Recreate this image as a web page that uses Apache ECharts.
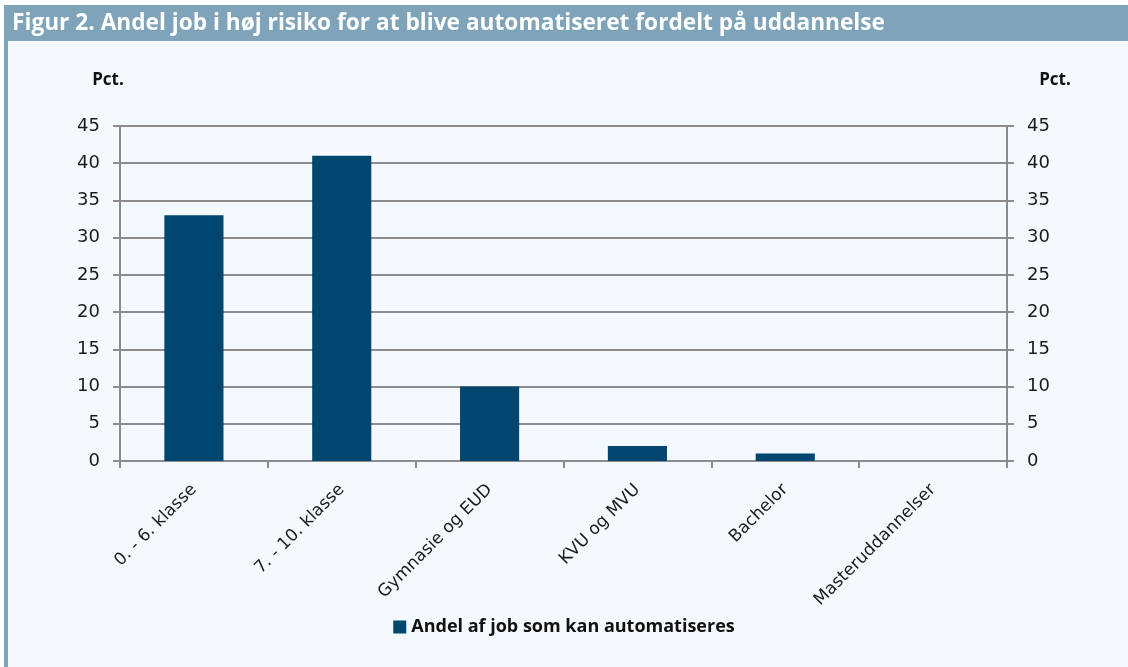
<!DOCTYPE html>
<html>
<head>
<meta charset="utf-8">
<script src="https://cdn.jsdelivr.net/npm/echarts@6/dist/echarts.min.js"></script>
<style>
html,body{margin:0;padding:0;background:#ffffff;}
#chart{width:1128px;height:667px;}
</style>
</head>
<body>
<div id="chart"></div>
<script>
const titleText = 'Figur 2. Andel job i høj risiko for at blive automatiseret fordelt på uddannelse';
const categories = ['0. - 6. klasse', '7. - 10. klasse', 'Gymnasie og EUD', 'KVU og MVU', 'Bachelor', 'Masteruddannelser'];
const seriesName = 'Andel af job som kan automatiseres';
const values = [33, 41, 10, 2, 1, 0];
const unitLabel = 'Pct.';

const chart = echarts.init(document.getElementById('chart'));
const axisCommon = {
  type: 'value', min: 0, max: 45, interval: 5,
  axisLine: {show: true, lineStyle: {color: '#8c8c8c', width: 2}},
  axisTick: {show: true, length: 7, lineStyle: {color: '#8c8c8c', width: 2}},
  axisLabel: {color: '#1a1a1a', fontSize: 18, fontFamily: 'DejaVu Sans', margin: 20}
};
chart.setOption({
  backgroundColor: '#ffffff',
  animation: false,
  graphic: [
    {type: 'rect', z: -10, shape: {x: 4, y: 41, width: 1124, height: 626}, style: {fill: '#f4f9fd'}},
    {type: 'rect', z: -5, shape: {x: 4, y: 5, width: 1124, height: 36}, style: {fill: '#7fa3b8'}},
    {type: 'rect', z: -5, shape: {x: 4, y: 41, width: 4, height: 626}, style: {fill: '#7fa3b8'}},
    {type: 'text', x: 12, y: 24, style: {text: titleText, fill: '#ffffff', font: 'bold 22.7px "Open Sans"', verticalAlign: 'middle'}},
    {type: 'text', x: 108, y: 80, style: {text: unitLabel, fill: '#111', font: 'bold 17px "Open Sans"', align: 'center', verticalAlign: 'middle'}},
    {type: 'text', x: 1055, y: 80, style: {text: unitLabel, fill: '#111', font: 'bold 17px "Open Sans"', align: 'center', verticalAlign: 'middle'}}
  ],
  grid: {left: 120, right: 121, top: 126, bottom: 206, containLabel: false},
  legend: {
    bottom: 26, left: 'center',
    icon: 'rect', itemWidth: 13, itemHeight: 13, itemGap: 4,
    textStyle: {fontSize: 18, fontWeight: 'bold', fontFamily: '"Open Sans"', color: '#111'},
    data: [seriesName]
  },
  xAxis: {
    type: 'category', data: categories,
    axisLine: {lineStyle: {color: '#8c8c8c', width: 2}},
    axisTick: {show: true, alignWithLabel: false, length: 7, lineStyle: {color: '#8c8c8c', width: 2}},
    axisLabel: {rotate: 45, fontSize: 17, fontFamily: 'DejaVu Sans', color: '#1a1a1a', margin: 26, interval: 0}
  },
  yAxis: [
    Object.assign({}, axisCommon, {position: 'left', splitLine: {show: true, lineStyle: {color: '#8c8c8c', width: 2}}}),
    Object.assign({}, axisCommon, {position: 'right', splitLine: {show: false}})
  ],
  series: [{
    name: seriesName, type: 'bar', data: values, barWidth: '40%',
    itemStyle: {color: '#00476f'}
  }]
});
</script>
</body>
</html>
